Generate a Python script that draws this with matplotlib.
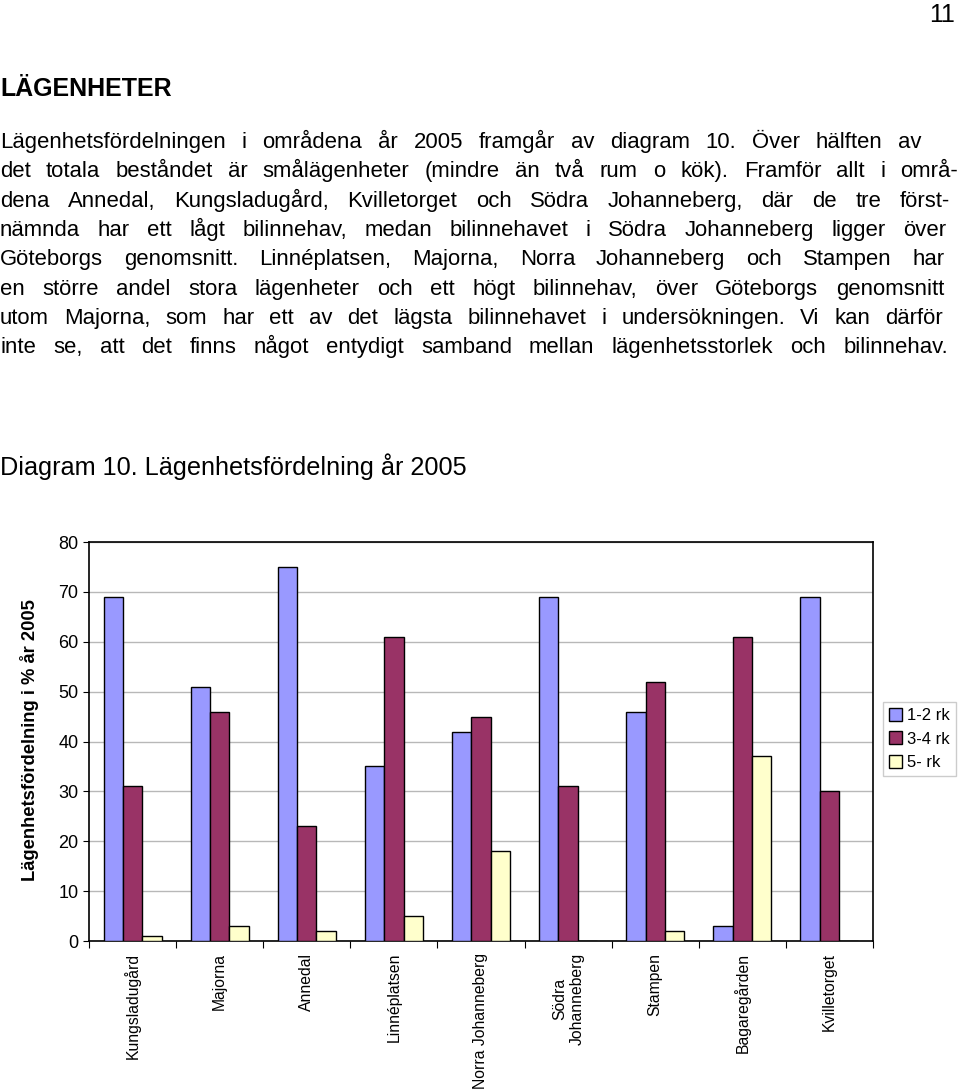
import numpy as np
import matplotlib
matplotlib.use("Agg")
from matplotlib import pyplot as plt

plt.rcParams['font.family'] = ['Liberation Sans', 'DejaVu Sans']

areas = ['Kungsladugård', 'Majorna', 'Annedal', 'Linnéplatsen',
         'Norra Johanneberg', 'Södra\nJohanneberg', 'Stampen',
         'Bagaregården', 'Kvilletorget']
small = [69, 51, 75, 35, 42, 69, 46, 3, 69]     # 1-2 rk
medium = [31, 46, 23, 61, 45, 31, 52, 61, 30]   # 3-4 rk
large = [1, 3, 2, 5, 18, 0, 2, 37, 0]           # 5- rk
series_names = ['1-2 rk', '3-4 rk', '5- rk']
colors = ['#9999FF', '#993366', '#FFFFCC']
y_ticks = [0, 10, 20, 30, 40, 50, 60, 70, 80]

body = [
    "Lägenhetsfördelningen i områdena år 2005 framgår av diagram 10. Över hälften av",
    "det totala beståndet är smålägenheter (mindre än två rum o kök). Framför allt i områ-",
    "dena Annedal, Kungsladugård, Kvilletorget och Södra Johanneberg, där de tre först-",
    "nämnda har ett lågt bilinnehav, medan bilinnehavet i Södra Johanneberg ligger över",
    "Göteborgs genomsnitt. Linnéplatsen, Majorna, Norra Johanneberg och Stampen har",
    "en större andel stora lägenheter och ett högt bilinnehav, över Göteborgs genomsnitt",
    "utom Majorna, som har ett av det lägsta bilinnehavet i undersökningen. Vi kan därför",
    "inte se, att det finns något entydigt samband mellan lägenhetsstorlek och bilinnehav.",
]
line_ends = [922, 958, 950, 946, 945, 944, 943, 948]

W, H = 960, 1090
fig = plt.figure(figsize=(W / 100, H / 100), dpi=100)


def fy(py):
    return 1 - py / H


fig.text(955 / W, fy(22), '11', fontsize=18, ha='right', va='baseline')
fig.text(0.0, fy(96), 'LÄGENHETER', fontsize=18, fontweight='bold',
         ha='left', va='baseline')

# spread words of each line out to its right end
renderer = fig.canvas.get_renderer()
for i, (line, end) in enumerate(zip(body, line_ends)):
    py = 148 + 29.3 * i
    words = line.split(' ')
    texts = [fig.text(0, fy(py), w, fontsize=15.9, ha='left', va='baseline')
             for w in words]
    widths = [t.get_window_extent(renderer).width for t in texts]
    gap = (end - sum(widths)) / (len(words) - 1)
    x = 0
    for t, w in zip(texts, widths):
        t.set_x(x / W)
        x += w + gap

fig.text(0.0, fy(475), 'Diagram 10. Lägenhetsfördelning år 2005',
         fontsize=18.2, ha='left', va='baseline')

# chart
left, right, top, bottom = 89, 873, 542, 941
ax = fig.add_axes([left / W, 1 - bottom / H, (right - left) / W, (bottom - top) / H])
x = np.arange(len(areas))
bw = 1 / 4.5
for i, (vals, name, c) in enumerate(zip([small, medium, large], series_names, colors)):
    ax.bar(x + (i - 1) * bw, vals, width=bw, color=c, edgecolor='black',
           linewidth=1.0, label=name, zorder=3)

ax.set_xlim(-0.5, len(areas) - 0.5)
ax.set_ylim(0, 80)
ax.set_yticks(y_ticks)
ax.tick_params(axis='y', labelsize=13, length=4, direction='out')
ax.yaxis.grid(True, color='#b8b8b8', linewidth=1.0, zorder=0)
ax.set_axisbelow(True)
ax.set_xticks(np.arange(len(areas) + 1) - 0.5)
ax.set_xticklabels([])
ax.tick_params(axis='x', length=5, direction='out')
for s in ax.spines.values():
    s.set_color('black')
    s.set_linewidth(1.2)

for xi, name in zip(x, areas):
    ax.text(xi, -2.4, name, rotation=90, ha='center', va='top',
            multialignment='center', fontsize=11.3)

fig.text(30 / W, fy(740), 'Lägenhetsfördelning i % år 2005', rotation=90,
         fontsize=13.2, fontweight='bold', ha='center', va='center')

leg = fig.legend(loc='upper left', bbox_to_anchor=(883 / W, fy(702)),
                 fontsize=12, frameon=True, fancybox=False, edgecolor='#c0c0c0',
                 handlelength=0.8, handleheight=0.8, handletextpad=0.3,
                 borderpad=0.35, labelspacing=0.5, borderaxespad=0)
leg.get_frame().set_linewidth(1.0)

fig.savefig('out.png', dpi=100)
